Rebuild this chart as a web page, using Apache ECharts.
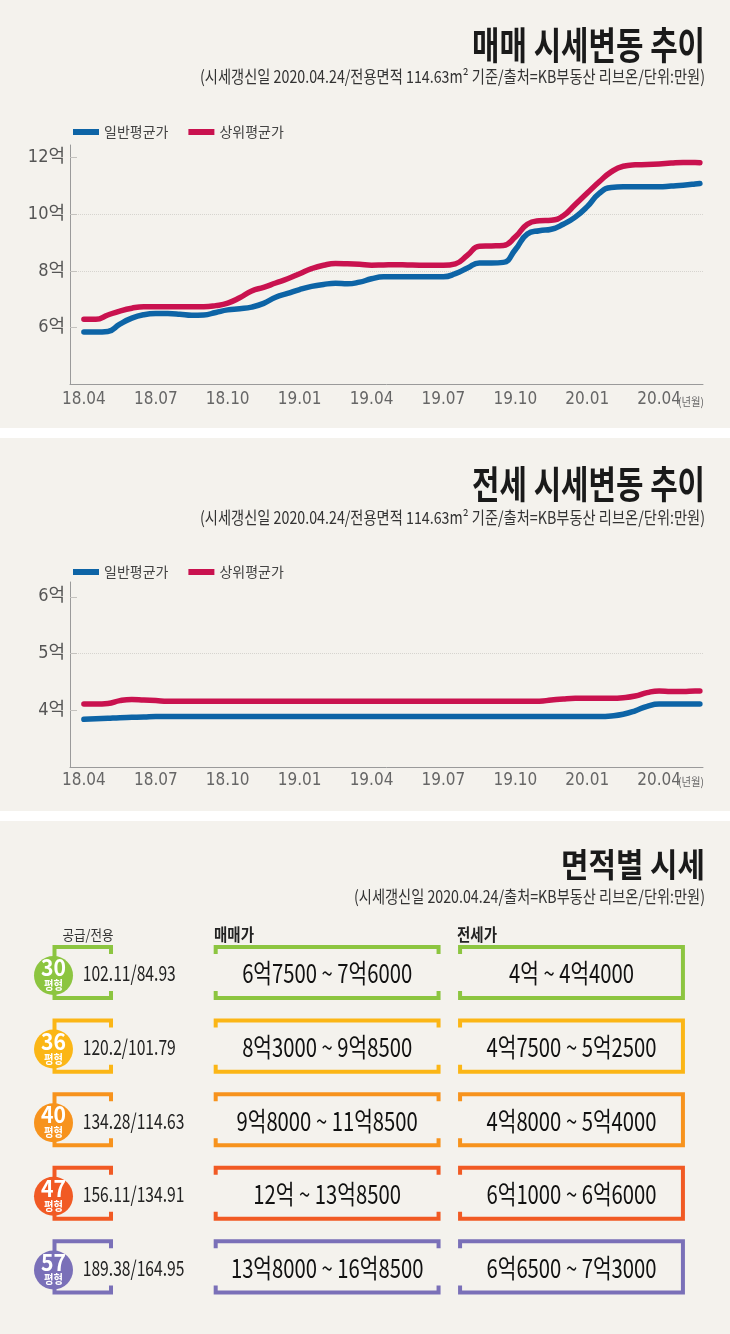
<!DOCTYPE html>
<html><head><meta charset="utf-8">
<script src="https://cdn.jsdelivr.net/npm/echarts@6/dist/echarts.min.js"></script>
<style>html,body{margin:0;padding:0;background:#f4f2ed}#c{width:730px;height:1334px}</style>
</head><body><div id="c"></div>
<script>
// ---------- DATA ----------
const months = [0,0.5,1,1.5,2,2.5,3,3.5,4,4.5,5,5.5,6,6.5,7,7.5,8,8.5,9,9.5,10,10.5,11,11.5,12,12.5,13,13.5,14,14.5,15,15.5,16,16.5,17,17.5,18,18.5,19,19.5,20,20.5,21,21.5,22,22.5,23,23.5,24,24.5,25,25.5,25.7];
const xTickMonths = [0,3,6,9,12,15,18,21,24];
const xTickLabels = ['18.04','18.07','18.10','19.01','19.04','19.07','19.10','20.01','20.04'];
const seriesNames = ['일반평균가','상위평균가'];
const saleNormal = [5.84,5.84,5.86,6.12,6.33,6.45,6.49,6.49,6.47,6.43,
  6.44,6.53,6.62,6.66,6.72,6.85,7.07,7.20,7.34,7.45,
  7.52,7.56,7.54,7.60,7.72,7.79,7.79,7.79,7.79,7.79,
  7.79,7.90,8.10,8.28,8.28,8.30,8.75,9.30,9.42,9.47,
  9.65,9.90,10.27,10.74,10.95,10.97,10.97,10.97,10.97,11.00,
  11.03,11.07,11.09];
const saleTop = [6.29,6.29,6.44,6.58,6.68,6.73,6.73,6.73,6.73,6.73,
  6.73,6.77,6.86,7.05,7.29,7.42,7.57,7.72,7.90,8.08,
  8.20,8.26,8.25,8.23,8.20,8.21,8.22,8.21,8.20,8.20,
  8.20,8.25,8.55,8.87,8.88,8.90,9.20,9.65,9.77,9.79,
  9.95,10.35,10.75,11.15,11.50,11.70,11.75,11.76,11.78,11.81,
  11.83,11.83,11.82];
const jeonseNormal = [3.84,3.85,3.86,3.87,3.875,3.88,3.89,3.89,3.89,3.89,
  3.89,3.89,3.89,3.89,3.89,3.89,3.89,3.89,3.89,3.89,
  3.89,3.89,3.89,3.89,3.89,3.89,3.89,3.89,3.89,3.89,
  3.89,3.89,3.89,3.89,3.89,3.89,3.89,3.89,3.89,3.89,
  3.89,3.89,3.89,3.89,3.90,3.93,3.99,4.07,4.11,4.11,
  4.11,4.11,4.11];
const jeonseTop = [4.11,4.11,4.12,4.17,4.19,4.18,4.17,4.16,4.16,4.16,
  4.16,4.16,4.16,4.16,4.16,4.16,4.16,4.16,4.16,4.16,
  4.16,4.16,4.16,4.16,4.16,4.16,4.16,4.16,4.16,4.16,
  4.16,4.16,4.16,4.16,4.16,4.16,4.16,4.16,4.16,4.18,
  4.20,4.21,4.21,4.21,4.21,4.22,4.25,4.31,4.34,4.33,
  4.33,4.34,4.34];
const saleTicks = [6,8,10,12];
const jeonseTicks = [4,5,6];
const pyeong = ['30','36','40','47','57'];
const areaLabels = ['102.11/84.93','120.2/101.79','134.28/114.63','156.11/134.91','189.38/164.95'];
const salePrices = ['6억7500 ~ 7억6000','8억3000 ~ 9억8500','9억8000 ~ 11억8500','12억 ~ 13억8500','13억8000 ~ 16억8500'];
const jeonsePrices = ['4억 ~ 4억4000','4억7500 ~ 5억2500','4억8000 ~ 5억4000','6억1000 ~ 6억6000','6억6500 ~ 7억3000'];
const tableHeaders = ['공급/전용','매매가','전세가'];
const titles = ['매매 시세변동 추이','전세 시세변동 추이','면적별 시세'];
const subtitles = ['(시세갱신일 2020.04.24/전용면적 114.63m² 기준/출처=KB부동산 리브온/단위:만원)',
  '(시세갱신일 2020.04.24/전용면적 114.63m² 기준/출처=KB부동산 리브온/단위:만원)',
  '(시세갱신일 2020.04.24/출처=KB부동산 리브온/단위:만원)'];

// ---------- STYLE ----------
const rowColors = ['#8cc540','#fbb616','#f7931d','#f15a24','#7a70b8'];
const BLUE = '#0d64a6', RED = '#c9124f';
const KRF = '"Noto Sans CJK KR"';
const NARROW = '"Liberation Sans Narrow", "DejaVu Sans Condensed", "Noto Sans CJK KR", sans-serif';

const ctx = document.createElement('canvas').getContext('2d');
function textW(t, size, weight){ ctx.font = weight + ' ' + size + 'px ' + KRF; return ctx.measureText(t).width; }
function fit(t, size, weight, target){ return target / textW(t, size, weight); }

function txt(text, x, y, size, weight, scale, color, align){
  return {type:'text', x:x, y:y, scaleX:scale, z:10,
    style:{text:text, fontSize:size, fontWeight:weight, fontFamily:KRF, fill:color,
      align:align, verticalAlign:'middle', textAlign:align, textVerticalAlign:'middle'}};
}
function gText(text, x, y, size, weight, target, align, color){
  return txt(text, x, y, size, weight, fit(text, size, weight, target), color, align);
}

const priceScale = fit(salePrices[0], 26, 'normal', 170);
const areaScale = fit(areaLabels[0], 21, 'normal', 93);
const numScale = fit(pyeong[0], 23, 'bold', 25);
const pyScale = fit('평형', 12, 'bold', 19);

function renderRow(params, api){
  const i = params.dataIndex;
  const p0 = api.coord([0, i]), p1 = api.coord([1, i]), p2 = api.coord([2, i]);
  const colW = p1[0] - p0[0];
  const bandH = api.size([0, 1])[1];
  const cy = p0[1];
  const h = bandH * 0.347, t = 7;
  const color = rowColors[i];
  const ls = {stroke:color, lineWidth:4, fill:null, lineJoin:'miter', lineCap:'butt'};
  const lx0 = p0[0] - colW * 0.1156, lx1 = p0[0] + colW * 0.1156;
  const hw = colW * 0.456;
  const sx0 = p1[0] - hw, sx1 = p1[0] + hw;
  const jx0 = p2[0] - hw, jx1 = p2[0] + hw;
  const ccx = lx0 - 1, ccy = cy + 3, r = bandH * 0.265;
  const children = [
    {type:'polyline', shape:{points:[[lx1,cy-h+t],[lx1,cy-h],[lx0,cy-h],[lx0,cy+h],[lx1,cy+h],[lx1,cy+h-t]]}, style:ls},
    {type:'polyline', shape:{points:[[sx0,cy-h+t],[sx0,cy-h],[sx1,cy-h],[sx1,cy-h+t]]}, style:ls},
    {type:'polyline', shape:{points:[[sx0,cy+h-t],[sx0,cy+h],[sx1,cy+h],[sx1,cy+h-t]]}, style:ls},
    {type:'polyline', shape:{points:[[jx0,cy-h+t],[jx0,cy-h],[jx1,cy-h],[jx1,cy+h],[jx0,cy+h],[jx0,cy+h-t]]}, style:ls},
    {type:'circle', shape:{cx:ccx, cy:ccy, r:r}, style:{fill:color}},
    txt(pyeong[i], ccx, ccy - 8, 23, 'bold', numScale, '#ffffff', 'center'),
    txt('평형', ccx, ccy + 10, 12, 'bold', pyScale, '#ffffff', 'center'),
    txt(areaLabels[i], p0[0], cy + 1, 21, 'normal', areaScale, '#222222', 'left'),
    txt(salePrices[i], p1[0], cy + 1, 26, 'normal', priceScale, '#111111', 'center'),
    txt(jeonsePrices[i], p2[0], cy + 1, 26, 'normal', priceScale, '#111111', 'center')
  ];
  return {type:'group', children:children};
}

function lineSeries(name, vals, color, idx){
  return {type:'line', name:name, xAxisIndex:idx, yAxisIndex:idx,
    data: months.map(function(m, k){ return [m, vals[k]]; }),
    showSymbol:false, smooth:0.5, silent:true,
    lineStyle:{width:5.5, color:color, cap:'round', join:'round'},
    itemStyle:{color:color}, z:3};
}

function xAxisCfg(idx, margin){
  return {gridIndex:idx, type:'value', min:-0.58, max:25.83,
    axisLine:{show:true, onZero:false, lineStyle:{color:'#9a9a9a', width:1}},
    axisTick:{show:false}, splitLine:{show:false},
    axisLabel:{customValues:xTickMonths, margin:margin, fontSize:17, color:'#666',
      fontFamily:NARROW,
      formatter:function(v){ const k = xTickMonths.indexOf(Math.round(v)); return k >= 0 ? xTickLabels[k] : ''; }}};
}
function yAxisCfg(idx, min, max, interval, ticks){
  return {gridIndex:idx, type:'value', min:min, max:max, interval:interval,
    axisLine:{show:true, onZero:false, lineStyle:{color:'#9a9a9a', width:1}},
    axisTick:{show:true, inside:true, length:7, customValues:ticks, lineStyle:{color:'#c4c2be'}},
    axisLabel:{customValues:ticks, margin:5, fontSize:18, color:'#555', fontFamily:NARROW,
      formatter:function(v){ return v + '억'; }},
    splitLine:{show:true, showMinLine:false, showMaxLine:false, lineStyle:{color:'#d6d4cf', type:'dotted', width:1}}};
}

const legendCfg = function(top){
  return {data:seriesNames, left:68, top:top, itemWidth:26, itemHeight:6, itemGap:20,
    icon:'rect', selectedMode:false,
    textStyle:{fontSize:14, color:'#444', fontFamily:KRF}};
};

const option = {
  backgroundColor:'#f4f2ed',
  animation:false,
  legend:[legendCfg(120), legendCfg(560)],
  grid:[
    {left:70, right:27, top:145, height:239, outerBoundsMode:'none', containLabel:false},
    {left:70, right:27, top:582, height:185, outerBoundsMode:'none', containLabel:false},
    {left:82.75, right:158.5, top:935.7, height:368, outerBoundsMode:'none', containLabel:false}
  ],
  xAxis:[xAxisCfg(0, 7), xAxisCfg(1, 5),
    {gridIndex:2, type:'value', min:0, max:2, show:false}],
  yAxis:[yAxisCfg(0, 4, 12.45, 2, saleTicks), yAxisCfg(1, 3, 6.26, 1, jeonseTicks),
    {gridIndex:2, type:'category', data:pyeong, inverse:true, show:false}],
  series:[
    lineSeries(seriesNames[0], saleNormal, BLUE, 0),
    lineSeries(seriesNames[1], saleTop, RED, 0),
    lineSeries(seriesNames[0], jeonseNormal, BLUE, 1),
    lineSeries(seriesNames[1], jeonseTop, RED, 1),
    {type:'custom', xAxisIndex:2, yAxisIndex:2, silent:true, clip:false,
      data: pyeong.map(function(p, i){ return [0, i]; }), encode:{x:0, y:1},
      renderItem: renderRow}
  ],
  graphic:[
    {type:'rect', shape:{x:0, y:428, width:730, height:10}, style:{fill:'#ffffff'}, z:1},
    {type:'rect', shape:{x:0, y:811, width:730, height:10}, style:{fill:'#ffffff'}, z:1},
    gText(titles[0], 705, 45, 38, 'bold', 233, 'right', '#1a1a1a'),
    gText(subtitles[0], 705, 77, 17, 'normal', 505, 'right', '#333333'),
    gText(titles[1], 705, 484, 38, 'bold', 233, 'right', '#1a1a1a'),
    gText(subtitles[1], 705, 518, 17, 'normal', 505, 'right', '#333333'),
    gText(titles[2], 705, 864, 33, 'bold', 144, 'right', '#1a1a1a'),
    gText(subtitles[2], 705, 897, 17, 'normal', 351, 'right', '#333333'),
    gText('(년월)', 704, 402, 11, 'normal', 26, 'right', '#666666'),
    gText('(년월)', 704, 782, 11, 'normal', 26, 'right', '#666666'),
    gText(tableHeaders[0], 88, 935, 14, 'normal', 51, 'center', '#333333'),
    gText(tableHeaders[1], 214, 935, 17, 'bold', 40, 'left', '#222222'),
    gText(tableHeaders[2], 457, 935, 17, 'bold', 40, 'left', '#222222')
  ]
};
const chart = echarts.init(document.getElementById('c'), null, {renderer:'canvas'});
chart.setOption(option);
</script>
</body></html>
